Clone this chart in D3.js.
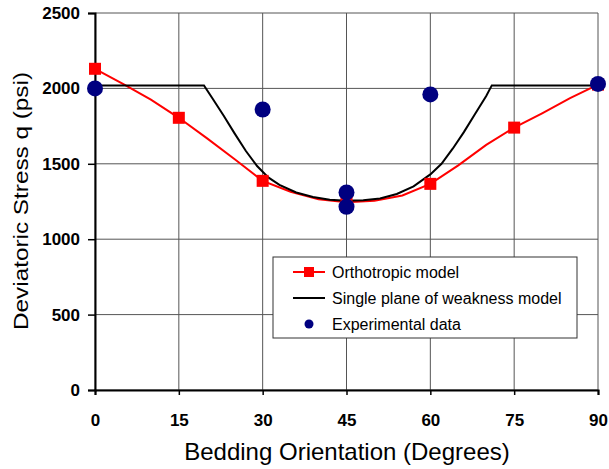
<!DOCTYPE html>
<html>
<head>
<meta charset="utf-8">
<script src="https://cdn.jsdelivr.net/npm/d3@7"></script>
<style>
  body { margin: 0; background: #fff; }
  text { font-family: "Liberation Sans", Arial, sans-serif; }
</style>
</head>
<body>
<div id="chart"></div>
<script>
    // orthotropic model (red line, markers every 15 degrees)
    let orthoAngles = [0, 5, 10, 15, 20, 25, 30, 35, 40, 45, 50, 55, 60, 65, 70, 75, 80, 85, 90];
    let orthoStress = [2130, 2030, 1925, 1805, 1670, 1530, 1387, 1315, 1265, 1245, 1255, 1290, 1367, 1490, 1625, 1740, 1835, 1935, 2025];
    let markerAngles = [0, 15, 30, 45, 60, 75, 90];

    // single plane of weakness model (black line)
    let weakAngles = [0, 19.5, 21, 23, 25, 27, 29, 31, 33, 36, 39, 42, 45, 48, 51, 54, 57, 60, 62, 64, 66, 68, 70, 71, 90];
    let weakStress = [2020, 2020, 1935, 1820, 1700, 1585, 1485, 1410, 1360, 1310, 1280, 1262, 1255, 1258, 1270, 1300, 1350, 1430, 1500, 1600, 1710, 1830, 1950, 2020, 2020];

    // experimental data (blue dots)
    let expAngles = [0, 30, 45, 45, 60, 90];
    let expStress = [2000, 1860, 1310, 1215, 1960, 2030];

    let xTicks = [0, 15, 30, 45, 60, 75, 90];
    let yTicks = [0, 500, 1000, 1500, 2000, 2500];

    let width = 609, height = 469;
    let margin = {top: 13, right: 11, bottom: 79, left: 95};

    let svg = d3.select("#chart")
        .append("svg")
        .attr("width", width)
        .attr("height", height);

    let x = d3.scaleLinear()
        .domain([0, 90])
        .range([margin.left, width - margin.right]);

    let y = d3.scaleLinear()
        .domain([0, 2500])
        .range([height - margin.bottom, margin.top]);

    // grid
    svg.append("g")
        .selectAll("line")
        .data(xTicks)
        .enter()
        .append("line")
        .attr("x1", d => x(d)).attr("x2", d => x(d))
        .attr("y1", y(0)).attr("y2", y(2500))
        .attr("stroke", "#555")
        .attr("stroke-width", 1);

    svg.append("g")
        .selectAll("line")
        .data(yTicks)
        .enter()
        .append("line")
        .attr("x1", x(0)).attr("x2", x(90))
        .attr("y1", d => y(d)).attr("y2", d => y(d))
        .attr("stroke", "#555")
        .attr("stroke-width", 1);

    // axes
    let xAxis = svg.append("g")
        .attr("transform", "translate(0," + y(0) + ")")
        .call(d3.axisBottom(x).tickValues(xTicks).tickFormat(d3.format("d")).tickSize(5).tickPadding(19));

    let yAxis = svg.append("g")
        .attr("transform", "translate(" + x(0) + ",0)")
        .call(d3.axisLeft(y).tickValues(yTicks).tickFormat(d3.format("d")).tickSize(7).tickPadding(8));

    [xAxis, yAxis].forEach(function(a) {
        a.select(".domain").attr("stroke", "#000").attr("stroke-width", 2);
        a.selectAll(".tick line").attr("stroke", "#000").attr("stroke-width", 1.5);
        a.selectAll(".tick text")
            .attr("font-family", "Liberation Sans, Arial, sans-serif")
            .attr("font-size", "17px")
            .attr("font-weight", "bold")
            .attr("fill", "#000");
    });

    // lines
    let line = d3.line()
        .x(d => x(d[0]))
        .y(d => y(d[1]));

    svg.append("path")
        .datum(orthoAngles.map((a, i) => [a, orthoStress[i]]))
        .attr("d", line)
        .attr("fill", "none")
        .attr("stroke", "#ff0000")
        .attr("stroke-width", 2);

    svg.append("path")
        .datum(weakAngles.map((a, i) => [a, weakStress[i]]))
        .attr("d", line)
        .attr("fill", "none")
        .attr("stroke", "#000")
        .attr("stroke-width", 2);

    // red square markers
    svg.selectAll(".marker")
        .data(markerAngles)
        .enter()
        .append("rect")
        .attr("class", "marker")
        .attr("x", d => x(d) - 6)
        .attr("y", d => y(orthoStress[orthoAngles.indexOf(d)]) - 6)
        .attr("width", 12)
        .attr("height", 12)
        .attr("fill", "#ff0000");

    // experimental dots
    svg.selectAll(".exp")
        .data(expAngles.map((a, i) => [a, expStress[i]]))
        .enter()
        .append("circle")
        .attr("class", "exp")
        .attr("cx", d => x(d[0]))
        .attr("cy", d => y(d[1]))
        .attr("r", 8)
        .attr("fill", "#000080");

    // axis titles
    svg.append("text")
        .attr("x", 347)
        .attr("y", 460)
        .attr("text-anchor", "middle")
        .attr("font-size", "24px")
        .attr("fill", "#000")
        .text("Bedding Orientation (Degrees)");

    svg.append("text")
        .attr("transform", "translate(28,201) rotate(-90)")
        .attr("text-anchor", "middle")
        .attr("font-size", "21px")
        .attr("textLength", 258)
        .attr("lengthAdjust", "spacingAndGlyphs")
        .attr("fill", "#000")
        .text("Deviatoric Stress q (psi)");

    // legend
    let legend = svg.append("g").attr("transform", "translate(273,257)");
    legend.append("rect")
        .attr("width", 304)
        .attr("height", 81)
        .attr("fill", "#fff")
        .attr("stroke", "#333")
        .attr("stroke-width", 1);

    let items = ["Orthotropic model", "Single plane of weakness model", "Experimental data"];
    items.forEach(function(label, i) {
        let cy = 15 + i * 26;
        if (i < 2) {
            legend.append("line")
                .attr("x1", 20).attr("x2", 52)
                .attr("y1", cy).attr("y2", cy)
                .attr("stroke", i == 0 ? "#ff0000" : "#000")
                .attr("stroke-width", 2);
        }
        if (i == 0) {
            legend.append("rect")
                .attr("x", 31).attr("y", cy - 5)
                .attr("width", 10).attr("height", 10)
                .attr("fill", "#ff0000");
        }
        if (i == 2) {
            legend.append("circle")
                .attr("cx", 36).attr("cy", cy)
                .attr("r", 4.5)
                .attr("fill", "#000080");
        }
        legend.append("text")
            .attr("x", 59)
            .attr("y", cy + 6)
            .attr("font-size", "16px")
            .attr("fill", "#000")
            .text(label);
    });
</script>
</body>
</html>
